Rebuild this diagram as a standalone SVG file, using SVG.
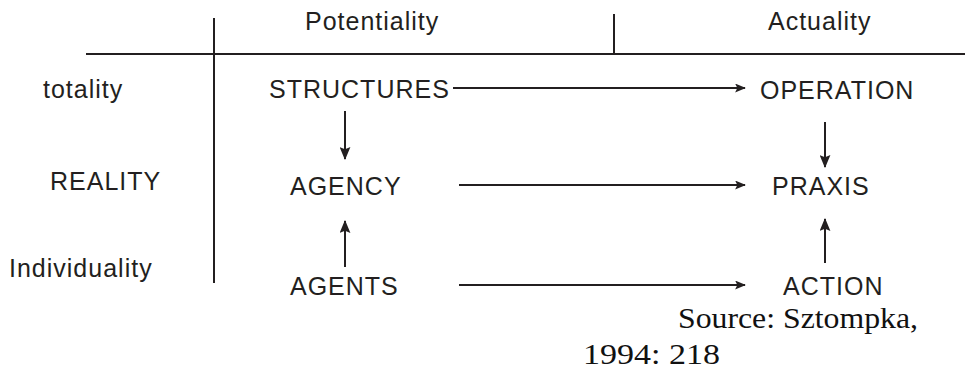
<svg xmlns="http://www.w3.org/2000/svg" width="968" height="369" viewBox="0 0 968 369">
  <style>
    .lbl { font-family: "Liberation Sans", Arial, sans-serif; font-size: 25px; letter-spacing: 1px; fill: #231f20; }
    .src { font-family: "Liberation Serif", "Times New Roman", serif; font-size: 29px; fill: #111; }
    .rule { stroke: #231f20; stroke-width: 2; fill: none; }
    .conn { stroke: #231f20; stroke-width: 2; fill: none; marker-end: url(#head); }
    .connv { stroke: #231f20; stroke-width: 2; fill: none; marker-end: url(#headv); }
  </style>
  <defs>
    <marker id="head" viewBox="0 0 12 10" refX="11" refY="5" markerWidth="12" markerHeight="9" markerUnits="userSpaceOnUse" orient="auto">
      <path d="M0,0 L12,5 L0,10 L2.5,5 z" fill="#231f20"/>
    </marker>
    <marker id="headv" viewBox="0 0 12 10" refX="11" refY="5" markerWidth="13" markerHeight="11" markerUnits="userSpaceOnUse" orient="auto">
      <path d="M0,0 L12,5 L0,10 L2,5 z" fill="#231f20"/>
    </marker>
  </defs>
  <rect width="968" height="369" fill="#fff"/>

  <!-- table rules -->
  <g id="grid">
    <line class="rule" x1="86" y1="54" x2="965" y2="54"/>
    <line class="rule" x1="214" y1="18" x2="214" y2="283"/>
    <line class="rule" x1="614" y1="14" x2="614" y2="54"/>
  </g>

  <!-- column and row headings -->
  <g id="headings">
    <text class="lbl" x="305" y="30">Potentiality</text>
    <text class="lbl" x="768" y="30">Actuality</text>
    <text class="lbl" x="43" y="98">totality</text>
    <text class="lbl" x="50" y="190">REALITY</text>
    <text class="lbl" x="9" y="277">Individuality</text>
  </g>

  <g id="structures"><text class="lbl" x="269" y="98">STRUCTURES</text></g>
  <g id="operation"><text class="lbl" x="760" y="99">OPERATION</text></g>
  <g id="agency"><text class="lbl" x="290" y="195">AGENCY</text></g>
  <g id="praxis"><text class="lbl" x="772" y="195">PRAXIS</text></g>
  <g id="agents"><text class="lbl" x="290" y="295">AGENTS</text></g>
  <g id="action"><text class="lbl" x="783" y="295">ACTION</text></g>

  <g id="connectors">
    <line class="conn" x1="453" y1="88" x2="745" y2="88"/>
    <line class="conn" x1="459" y1="185" x2="745" y2="185"/>
    <line class="conn" x1="459" y1="285" x2="745" y2="285"/>
    <line class="connv" x1="345" y1="111" x2="345" y2="159"/>
    <line class="connv" x1="345" y1="267" x2="345" y2="221"/>
    <line class="connv" x1="825" y1="122" x2="825" y2="167"/>
    <line class="connv" x1="825" y1="263" x2="825" y2="219"/>
  </g>

  <g id="source">
    <text class="src" x="678" y="328" textLength="240" lengthAdjust="spacingAndGlyphs">Source: Sztompka,</text>
    <text class="src" x="583" y="364" textLength="137" lengthAdjust="spacingAndGlyphs">1994: 218</text>
  </g>
</svg>
